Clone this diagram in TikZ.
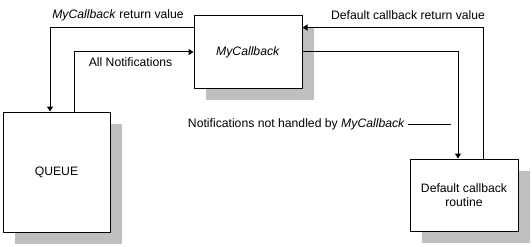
\documentclass[tikz,border=0pt]{standalone}
\usepackage{fontspec}
\setmainfont{Liberation Sans}
\usetikzlibrary{arrows.meta,shadows}
\begin{document}
\begin{tikzpicture}[x=1pt,y=-1pt,
  box/.style={draw=black,line width=1pt,fill=white,inner sep=0pt,
    drop shadow={shadow xshift=12pt,shadow yshift=-12pt,fill=black!25,opacity=1}},
  conn/.style={line width=1pt,-{Triangle[length=5pt,width=6pt]}},
  lbl/.style={font=\fontsize{12.2}{14}\selectfont,inner sep=0pt}]
\useasboundingbox (0,0) rectangle (532,246);
\node[box,minimum width=108pt,minimum height=72pt,lbl] (mycb) at (248,52) {\textit{MyCallback}};
\node[box,minimum width=107pt,minimum height=120pt,lbl] (queue) at (56.5,172) {QUEUE};
\node[box,minimum width=108pt,minimum height=72pt,lbl,align=center] (def) at (464,195) {Default callback\\[0pt]routine};
\draw[conn] ([yshift=-12pt]mycb.north west) -| ([xshift=-6.5pt]queue.north);
\draw[conn] ([xshift=17.5pt]queue.north) |- (mycb.west);
\draw[conn] (mycb.east) -| ([xshift=-6pt]def.north);
\draw[conn] ([xshift=19pt]def.north) |- ([yshift=-12pt]mycb.north east);
\node[lbl] (l1) at (118,15) {\textit{MyCallback} return value};
\node[lbl] (l2) at (130.5,62) {All Notifications};
\node[lbl] (l3) at (408,15) {Default callback return value};
\node[lbl,anchor=east] (l4) at (405,124) {Notifications not handled by \textit{MyCallback}};
\coordinate (l4end) at (451,124);
\draw[line width=1pt] ([xshift=3pt]l4.east) -- (l4end);
\end{tikzpicture}
\end{document}
